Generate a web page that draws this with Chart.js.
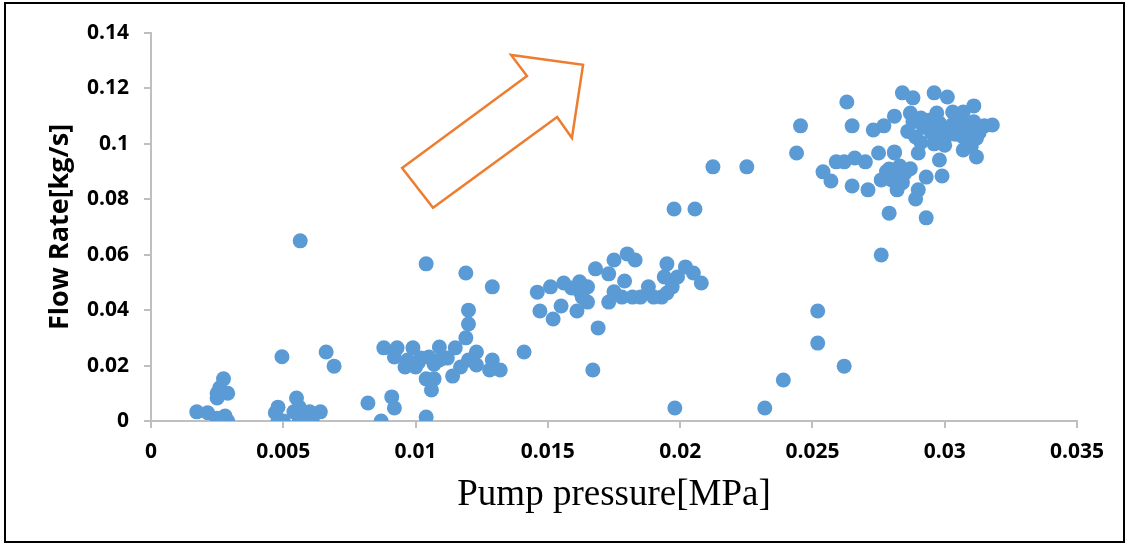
<!DOCTYPE html>
<html>
<head>
<meta charset="utf-8">
<script src="https://cdn.jsdelivr.net/npm/chart.js@4/dist/chart.umd.min.js"></script>
<style>
  html, body { margin: 0; padding: 0; background: #fff; }
  #chart { display: block; }
</style>
</head>
<body>
<canvas id="chart" width="1129" height="544"></canvas>
<script>
// Pump pressure [MPa] vs flow rate [kg/s]

const pressure = [
  // near zero flow
  0.00173, 0.00214, 0.0025, 0.0028, 0.0029, 0.0028, 0.0025, 0.00274, 0.0025, 0.0029,
  0.0025, 0.0026, 0.0048, 0.0047, 0.0048, 0.0050, 0.00495, 0.0055, 0.0054, 0.0056,
  0.0058, 0.0061, 0.0056, 0.0060, 0.0064, 0.0057, 0.00564, 0.00662, 0.00692,
  // ~0.01 MPa group
  0.0082, 0.0087, 0.0091, 0.0092, 0.0104, 0.0088, 0.0093, 0.0099, 0.0109, 0.0115,
  0.0123, 0.0092, 0.0097, 0.0102, 0.0105, 0.0109, 0.0112, 0.0117, 0.0120, 0.0123,
  0.0129, 0.0132, 0.0128, 0.0096, 0.0100, 0.0101, 0.0107, 0.0104, 0.0107, 0.0106,
  0.0114, 0.0104, 0.0119, 0.0129, 0.0120, 0.0120, 0.0119, 0.0141,
  // ~0.017 MPa group
  0.0146, 0.0147, 0.0151, 0.0156, 0.0162, 0.0165, 0.0162, 0.0159, 0.0155, 0.0152,
  0.0161, 0.0165, 0.0163, 0.0168, 0.0173, 0.0175, 0.0180, 0.0183, 0.0179, 0.0173,
  0.0175, 0.0178, 0.0182, 0.0185, 0.0188, 0.0190, 0.0193, 0.0195, 0.0197, 0.0194,
  0.0195, 0.0199, 0.0202, 0.0205, 0.0208, 0.0169, 0.0167, 0.0198, 0.01977, 0.02056,
  0.02124, 0.02252,
  // ~0.03 MPa group
  0.0232, 0.0239, 0.0252, 0.0252, 0.0262, 0.0244, 0.02455, 0.0263, 0.0265, 0.0273,
  0.0277, 0.0284, 0.0288, 0.0296, 0.0301, 0.0254, 0.0257, 0.0259, 0.0262, 0.0266,
  0.0270, 0.0265, 0.0271, 0.0275, 0.0281, 0.0279, 0.0276, 0.0282, 0.0289, 0.0290,
  0.0290, 0.0293, 0.0279, 0.0293, 0.0276, 0.0281, 0.0287, 0.0291, 0.0297, 0.0303,
  0.0307, 0.0311, 0.0318, 0.0312, 0.0307, 0.0299, 0.0298, 0.0281,
  0.0286, 0.0289, 0.0292, 0.0295, 0.0298, 0.0300, 0.0302, 0.0304, 0.0306, 0.0308,
  0.0309, 0.0311, 0.0313, 0.0315, 0.0300, 0.0296, 0.0310, 0.0305,
  0.0288, 0.0294, 0.0299, 0.0303, 0.0297, 0.0307, 0.0312, 0.0291,
  0.0278, 0.0281, 0.0283, 0.0285, 0.0287, 0.0280, 0.0284
];

const flowRate = [
  0.0033, 0.003, 0.001, 0.0, 0.0, 0.0018, 0.0, 0.0152, 0.010, 0.010,
  0.0083, 0.012, 0.005, 0.003, 0.0, 0.0, 0.0232, 0.0083, 0.0033, 0.005,
  0.0, 0.0, 0.0, 0.0033, 0.0033, 0.002, 0.065, 0.0249, 0.0198,

  0.0065, 0.0, 0.0087, 0.0047, 0.0014, 0.0264, 0.0264, 0.0264, 0.0267, 0.0264,
  0.0249, 0.0231, 0.022, 0.0227, 0.0231, 0.022, 0.0227, 0.0195, 0.022, 0.0202,
  0.022, 0.0184, 0.0184, 0.0195, 0.0195, 0.021, 0.0205, 0.0152, 0.0152, 0.0112,
  0.0162, 0.0567, 0.0534, 0.0484, 0.040, 0.035, 0.030, 0.0249,

  0.0465, 0.0397, 0.0484, 0.0498, 0.0502, 0.0484, 0.0469, 0.048, 0.0415, 0.0368,
  0.0397, 0.0429, 0.0447, 0.0549, 0.0531, 0.0581, 0.0603, 0.0581, 0.0505, 0.0429,
  0.0466, 0.0447, 0.0447, 0.0447, 0.0484, 0.0447, 0.0447, 0.0462, 0.0484, 0.052,
  0.0567, 0.052, 0.0556, 0.0534, 0.0498, 0.0336, 0.0184, 0.0047, 0.0765, 0.0765,
  0.0917, 0.0917,

  0.0047, 0.0148, 0.0397, 0.0281, 0.0198, 0.0967, 0.1065, 0.1151, 0.1065, 0.105,
  0.1065, 0.1184, 0.1166, 0.1184, 0.1169, 0.0899, 0.0866, 0.0935, 0.0935, 0.0949,
  0.0935, 0.0848, 0.0834, 0.0967, 0.0967, 0.0909, 0.087, 0.0834, 0.0801, 0.0834,
  0.0967, 0.088, 0.075, 0.0733, 0.0599, 0.110, 0.1111, 0.1093, 0.1111, 0.1115,
  0.1115, 0.1137, 0.1068, 0.0953, 0.0978, 0.0884, 0.0942, 0.0971,
  0.1045, 0.1025, 0.1060, 0.1040, 0.1075, 0.1020, 0.1055, 0.1035, 0.1090, 0.1050,
  0.1010, 0.1080, 0.1040, 0.1065, 0.0995, 0.1000, 0.0990, 0.1100,
  0.1080, 0.1085, 0.1050, 0.1070, 0.1020, 0.1025, 0.1020, 0.1005,
  0.0900, 0.0880, 0.0920, 0.0895, 0.0910, 0.0870, 0.0860
];

// orange arrow annotation, outline in data units (x: MPa, y: kg/s)
const arrowX = [0.00949, 0.01421, 0.01361, 0.01633, 0.01591, 0.01535, 0.01066];
const arrowY = [0.0913, 0.1245, 0.1321, 0.1285, 0.1021, 0.1097, 0.0769];

const xTitle = 'Pump pressure[MPa]';
const yTitle = 'Flow Rate[kg/s]';

const points = pressure.map((p, i) => ({ x: p, y: flowRate[i] }));

const axisGray = '#bfbfbf';
const tickFont = { family: "'Open Sans', sans-serif", size: 21, weight: 'bold' };

// white page, thin black frame and the arrow
const decor = {
  id: 'decor',
  beforeDraw(chart) {
    const ctx = chart.ctx;
    ctx.save();
    ctx.fillStyle = '#fff';
    ctx.fillRect(0, 0, chart.width, chart.height);
    ctx.restore();
  },
  afterDraw(chart) {
    const { ctx, scales } = chart;
    ctx.save();
    ctx.strokeStyle = '#000';
    ctx.lineWidth = 2;
    ctx.strokeRect(5, 3, chart.width - 10, chart.height - 5);

    ctx.strokeStyle = '#ed7d31';
    ctx.lineWidth = 2.5;
    ctx.lineJoin = 'miter';
    ctx.beginPath();
    arrowX.forEach((v, i) => {
      const px = scales.x.getPixelForValue(v);
      const py = scales.y.getPixelForValue(arrowY[i]);
      if (i === 0) ctx.moveTo(px, py); else ctx.lineTo(px, py);
    });
    ctx.closePath();
    ctx.stroke();
    ctx.restore();
  }
};

new Chart(document.getElementById('chart'), {
  type: 'scatter',
  data: {
    datasets: [{
      data: points,
      backgroundColor: '#5b9bd5',
      borderWidth: 0,
      pointRadius: 7.5,
      pointHoverRadius: 7.5
    }]
  },
  options: {
    responsive: false,
    animation: false,
    layout: { padding: { top: 33, right: 52, left: 0, bottom: 0 } },
    plugins: { legend: { display: false }, tooltip: { enabled: false } },
    scales: {
      x: {
        type: 'linear',
        min: 0,
        max: 0.035,
        afterFit(scale) { scale.height = 123; },
        border: { color: axisGray, width: 2 },
        grid: { drawOnChartArea: false, drawTicks: true, tickLength: 7, color: axisGray, lineWidth: 2 },
        ticks: {
          stepSize: 0.005,
          autoSkip: false,
          maxRotation: 0,
          padding: 11,
          color: '#000',
          font: tickFont,
          callback: v => String(+v.toFixed(3))
        },
        title: {
          display: true,
          text: xTitle,
          color: '#000',
          font: { family: "'Liberation Serif', serif", size: 37 },
          padding: { top: 0, bottom: 27 }
        }
      },
      y: {
        type: 'linear',
        min: 0,
        max: 0.14,
        afterFit(scale) { scale.width = 151; },
        border: { color: axisGray, width: 2 },
        grid: { drawOnChartArea: false, drawTicks: true, tickLength: 7, color: axisGray, lineWidth: 2 },
        ticks: {
          stepSize: 0.02,
          padding: 15,
          color: '#000',
          font: tickFont,
          callback: v => String(+v.toFixed(2))
        },
        title: {
          display: true,
          text: yTitle,
          color: '#000',
          font: { family: "'Open Sans', sans-serif", size: 27, weight: 'bold' },
          padding: { top: 44, bottom: 0 }
        }
      }
    }
  },
  plugins: [decor]
});
</script>
</body>
</html>
